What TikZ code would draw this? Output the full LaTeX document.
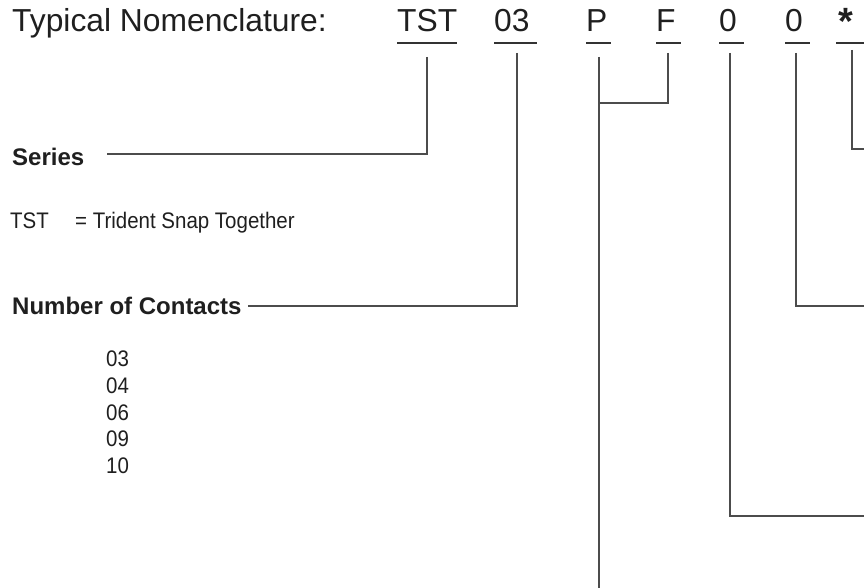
\documentclass[tikz,border=0pt]{standalone}
\usepackage{fontspec}
\setmainfont{Liberation Sans}
\newfontfamily\condfont[FakeStretch=0.91]{Liberation Sans}
\tikzset{
  txt/.style={inner sep=0pt, anchor=base west, text=black!88},
  title/.style={txt, font=\fontsize{31.8}{37}\selectfont},
  star/.style={txt, font=\bfseries\fontsize{38}{42}\selectfont},
  head/.style={txt, font=\bfseries\fontsize{24}{28}\selectfont},
  cond/.style={txt, font=\condfont\fontsize{22.5}{26}\selectfont},
  uline/.style={line width=2.2pt, draw=black!80},
  lead/.style={line width=1.2pt, draw=black!70}
}
\begin{document}
\begin{tikzpicture}[x=1pt,y=-1pt]
\useasboundingbox (0,0) rectangle (864,588);
% title and codes
\node[title] (ttl) at (12,32) {Typical Nomenclature:};
\node[title] (cTST) at (397,32) {TST};
\node[title] (c03) at (494,32) {03};
\node[title] (cP) at (586,32) {P};
\node[title] (cF) at (656,32) {F};
\node[title] (c0a) at (719,32) {0};
\node[title] (c0b) at (785,32) {0};
\node[star] (cS) at (838,35) {*};
% underlines
\coordinate (uTSTa) at (397,43); \coordinate (uTSTb) at (457,43);
\coordinate (u03a) at (494,43); \coordinate (u03b) at (537,43);
\coordinate (uPa) at (586,43); \coordinate (uPb) at (611,43);
\coordinate (uFa) at (656,43); \coordinate (uFb) at (681,43);
\coordinate (u0aa) at (719,43); \coordinate (u0ab) at (744,43);
\coordinate (u0ba) at (785,43); \coordinate (u0bb) at (810,43);
\coordinate (uSa) at (836,43); \coordinate (uSb) at (864,43);
\foreach \a/\b in {uTSTa/uTSTb,u03a/u03b,uPa/uPb,uFa/uFb,u0aa/u0ab,u0ba/u0bb,uSa/uSb}
  \draw[uline] (\a) -- (\b);
% left texts
\node[head] (series) at (12,166) {Series};
\node[cond] (tst) at (10,228) {TST};
\node[cond] (tstdef) at (75,228) {= Trident Snap Together};
\node[head] (noc) at (12,314) {Number of Contacts};
\node[cond] (n03) at (106,366) {03};
\node[cond] (n04) at (106,393) {04};
\node[cond] (n06) at (106,420) {06};
\node[cond] (n09) at (106,446) {09};
\node[cond] (n10) at (106,473) {10};
% leader lines
\coordinate (sTST) at (427,57); \coordinate (eTST) at (107,154);
\draw[lead] (sTST) |- (eTST);
\coordinate (s03) at (517,53); \coordinate (e03) at (248,306);
\draw[lead] (s03) |- (e03);
\coordinate (sP) at (599,57); \coordinate (eP) at (599,588);
\draw[lead] (sP) -- (eP);
\coordinate (sF) at (668,53); \coordinate (eF) at (599,103);
\draw[lead] (sF) |- (eF);
\coordinate (s0a) at (730,53); \coordinate (e0a) at (864,516);
\draw[lead] (s0a) |- (e0a);
\coordinate (s0b) at (796,53); \coordinate (e0b) at (864,306);
\draw[lead] (s0b) |- (e0b);
\coordinate (sS) at (852,50); \coordinate (eS) at (864,149);
\draw[lead] (sS) |- (eS);
\end{tikzpicture}
\end{document}
